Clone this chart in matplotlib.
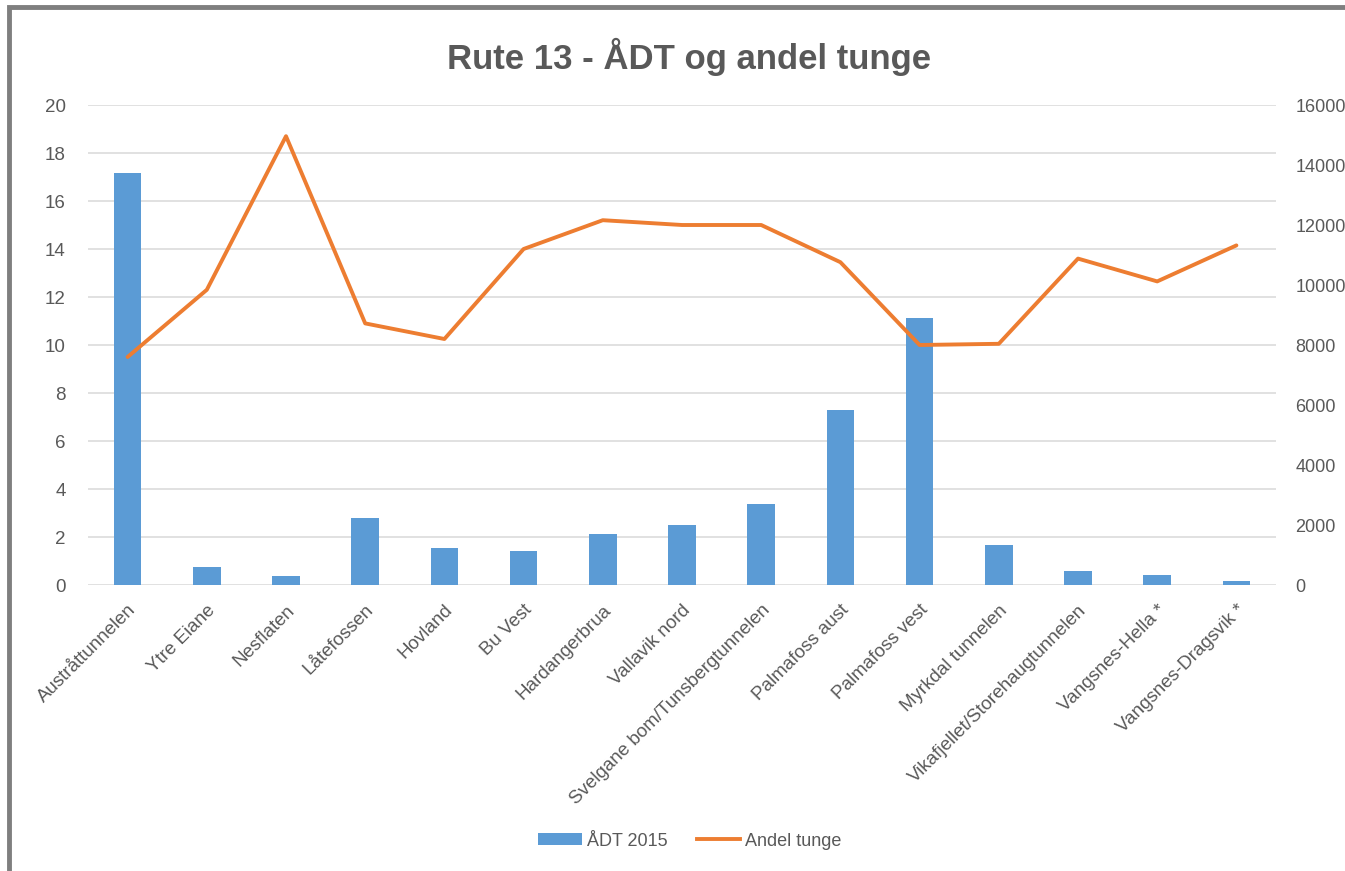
import matplotlib.pyplot as plt
from matplotlib.patches import Rectangle, Patch
from matplotlib.lines import Line2D
import numpy as np

# --- data ---
steder = ['Austråttunnelen', 'Ytre Eiane', 'Nesflaten', 'Låtefossen', 'Hovland',
          'Bu Vest', 'Hardangerbrua', 'Vallavik nord', 'Svelgane bom/Tunsbergtunnelen',
          'Palmafoss aust', 'Palmafoss vest', 'Myrkdal tunnelen',
          'Vikafjellet/Storehaugtunnelen', 'Vangsnes-Hella *', 'Vangsnes-Dragsvik *']
adt_2015 = [13750, 610, 300, 2240, 1220, 1120, 1690, 2010, 2700, 5820, 8900, 1340, 480, 330, 120]
andel_tunge = [9.5, 12.3, 18.7, 10.9, 10.25, 14.0, 15.2, 15.0, 15.0, 13.45, 10.0, 10.05, 13.6, 12.65, 14.15]

venstre_ticks = list(range(0, 21, 2))
hoyre_ticks = list(range(0, 16001, 2000))

BLA = '#5B9BD5'
ORANSJE = '#ED7D31'
GRA = '#595959'
FONT = 'Liberation Sans'

plt.rcParams['font.family'] = [FONT, 'DejaVu Sans']

fig = plt.figure(figsize=(13.45, 8.71), dpi=100)
fig.patch.set_facecolor('white')

# ramme rundt diagrammet (grå, kuttet i høyre/nedre kant)
fig.add_artist(Rectangle((9 / 1345, -0.05), 1.1, 0.05 + 1 - 7 / 871,
                         transform=fig.transFigure, fill=False,
                         edgecolor='#7F7F7F', linewidth=3.5, clip_on=False))

ax = fig.add_axes([88 / 1345, 1 - 585 / 871, (1276 - 88) / 1345, (585 - 105) / 871])
x = np.arange(len(steder))

# søyler (ÅDT) - skala til høyre
ax.bar(x, adt_2015, width=0.35, color=BLA, zorder=2)
ax.set_ylim(0, 16000)
ax.set_yticks(hoyre_ticks)
ax.set_xlim(-0.5, len(steder) - 0.5)

# linje (andel tunge) - skala til venstre
ax2 = ax.twinx()
ax2.plot(x, andel_tunge, color=ORANSJE, linewidth=2.8, solid_joinstyle='round',
         solid_capstyle='round', zorder=3)
ax2.set_ylim(0, 20)
ax2.set_yticks(venstre_ticks)

# bytt side: søyleaksen til høyre, linjeaksen til venstre
ax.yaxis.tick_right()
ax2.yaxis.tick_left()

# rutenett følger venstre akse, tegnes bak søylene
for v in venstre_ticks:
    ax.axhline(v * 800, color='#D9D9D9', linewidth=1.1, zorder=0)

for a in (ax, ax2):
    for s in a.spines.values():
        s.set_visible(False)
    a.tick_params(axis='y', length=0, labelsize=13.5, labelcolor=GRA)
ax.tick_params(axis='y', pad=14, labelsize=13)
ax2.tick_params(axis='y', pad=16)

ax.set_xticks(x)
ax.set_xticklabels(steder, rotation=45, ha='right', rotation_mode='anchor',
                   fontsize=13.5, color=GRA)
ax.tick_params(axis='x', length=0, pad=12)

fig.text(0.512, 1 - 57 / 871, 'Rute 13 - ÅDT og andel tunge', ha='center', va='center',
         fontsize=25, fontweight='bold', color=GRA)

handles = [Patch(facecolor=BLA, edgecolor='none'),
           Line2D([0], [0], color=ORANSJE, linewidth=2.8)]
fig.legend(handles, ['ÅDT 2015', 'Andel tunge'], loc='center',
           bbox_to_anchor=(0.513, 1 - 841 / 871), ncol=2, frameon=False,
           fontsize=13, labelcolor=GRA, handlelength=2.4, handleheight=0.6,
           handletextpad=0.3, columnspacing=1.6)

fig.savefig('out.png', dpi=100, facecolor='white')
